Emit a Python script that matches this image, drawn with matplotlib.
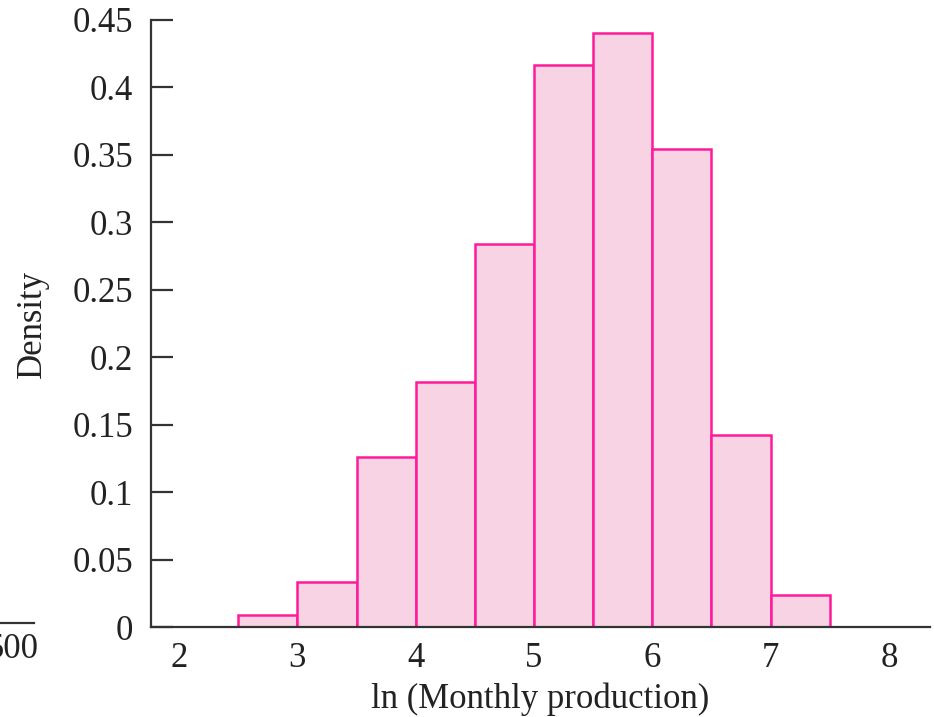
import matplotlib
matplotlib.use("Agg")
import matplotlib.pyplot as plt
from matplotlib.lines import Line2D

bin_edges = [2.5, 3.0, 3.5, 4.0, 4.5, 5.0, 5.5, 6.0, 6.5, 7.0, 7.5]
densities = [0.009, 0.033, 0.126, 0.182, 0.284, 0.417, 0.440, 0.354, 0.142, 0.024]
xticks = [2, 3, 4, 5, 6, 7, 8]
yticks = [0, 0.05, 0.1, 0.15, 0.2, 0.25, 0.3, 0.35, 0.4, 0.45]
ytick_labels = ["0", "0.05", "0.1", "0.15", "0.2", "0.25", "0.3", "0.35", "0.4", "0.45"]

plt.rcParams['font.family'] = ['Liberation Serif', 'DejaVu Serif']

W, H = 934, 717
fig = plt.figure(figsize=(W / 100, H / 100), dpi=100)
ax = fig.add_axes([151 / W, 1 - 627 / H, (930 - 151) / W, (627 - 20) / H])

lefts = bin_edges[:-1]
widths = [b - a for a, b in zip(bin_edges[:-1], bin_edges[1:])]
ax.bar(lefts, densities, width=widths, align='edge', color='#f8d3e4',
       edgecolor='#ff1a9a', linewidth=1.8, zorder=2)

ax.set_xlim(1.763, 8.347)
ax.set_ylim(0, 0.45)
ax.set_xticks(xticks)
ax.set_xticklabels([str(t) for t in xticks])
ax.set_yticks(yticks)
ax.set_yticklabels(ytick_labels)

for s in ['top', 'right']:
    ax.spines[s].set_visible(False)
for s in ['left', 'bottom']:
    ax.spines[s].set_color('#333333')
    ax.spines[s].set_linewidth(1.6)
ax.spines['bottom'].set_zorder(3)

ax.tick_params(axis='y', direction='in', length=16, width=1.6, color='#333333',
               labelsize=25, pad=13, labelcolor='#222222')
ax.tick_params(axis='x', length=0, labelsize=25, pad=11, labelcolor='#222222')

ax.set_xlabel('ln (Monthly production)', fontsize=25, color='#222222', labelpad=5)
ax.set_ylabel('Density', fontsize=25, color='#222222', labelpad=17)

# fragment of neighbouring panel at the left edge
fig.add_artist(Line2D([0, 34 / W], [1 - 623 / H, 1 - 623 / H], color='#333333',
                      linewidth=1.6, transform=fig.transFigure))
fig.text(39 / W, 1 - 650 / H, '500', ha='right', va='center', fontsize=25,
         color='#222222')

fig.savefig('out.png', dpi=100)
